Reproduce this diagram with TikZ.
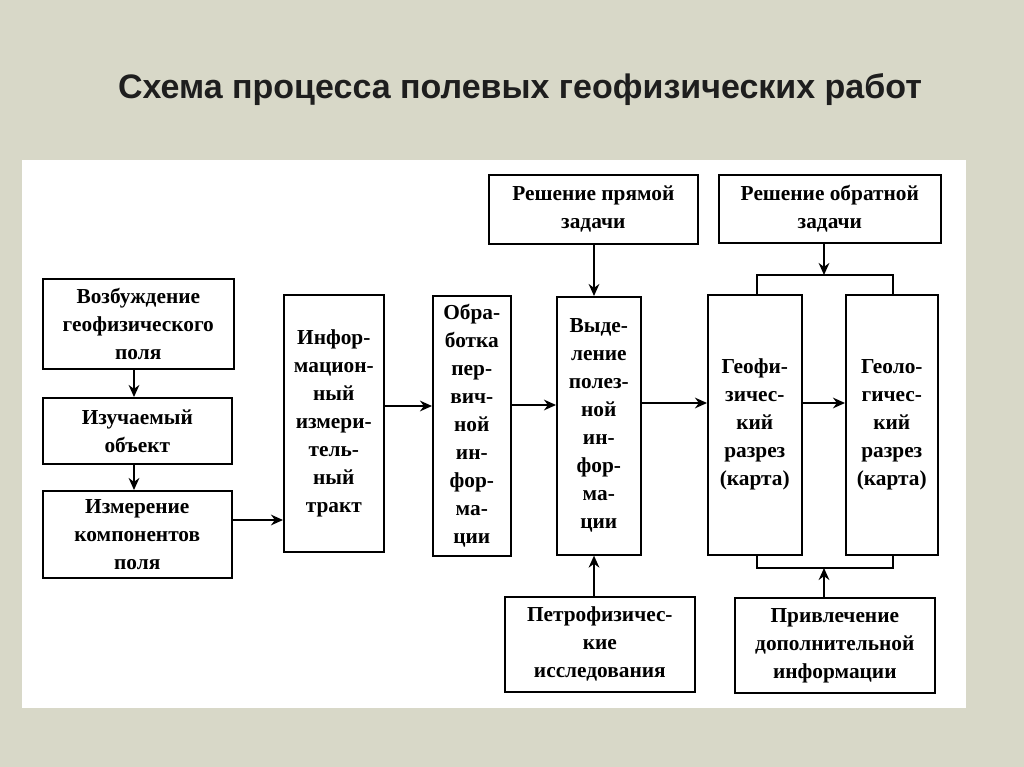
\documentclass[tikz,border=0pt]{standalone}
\usepackage{fontspec}
\setmainfont{Liberation Serif}
\setsansfont{Liberation Sans}
\usetikzlibrary{arrows.meta}
\tikzset{
 bx/.style={draw,line width=1.2pt,fill=white,align=center,font=\fontsize{16}{21}\selectfont\bfseries,inner sep=0pt},
 ar/.style={line width=1.5pt,-{Stealth[length=9pt,width=8pt]}},
 ln/.style={line width=1.2pt}
}
\newcommand{\bxx}[6]{\node[bx,minimum width=#4*0.75pt,minimum height=#5*0.75pt,anchor=north west] (#1) at (#2,#3) {#6};}
\begin{document}
\begin{tikzpicture}[x=0.75pt,y=-0.75pt]
\fill[fill={rgb,255:red,216;green,216;blue,200}] (0,0) rectangle (1024,767);
\useasboundingbox (0,0) rectangle (1024,767);
\fill[white] (22,160) rectangle (966,708);
\node[font=\sffamily\bfseries\fontsize{25.5}{30}\selectfont,text={rgb,255:red,30;green,30;blue,30}] (t) at (520,90) {Схема процесса полевых геофизических работ};
\bxx{A}{42}{278}{191}{90}{Возбуждение\\геофизического\\поля}
\bxx{B}{42}{397}{189}{66}{Изучаемый\\объект}
\bxx{C}{42}{490}{189}{87}{Измерение\\компонентов\\поля}
\bxx{D}{283}{294}{100}{257}{Инфор-\\мацион-\\ный\\измери-\\тель-\\ный\\тракт}
\bxx{E}{432}{295}{78}{260}{Обра-\\ботка\\пер-\\вич-\\ной\\ин-\\фор-\\ма-\\ции}
\bxx{F}{556}{296}{84}{258}{Выде-\\ление\\полез-\\ной\\ин-\\фор-\\ма-\\ции}
\bxx{G}{488}{174}{209}{69}{Решение прямой\\задачи}
\bxx{H}{718}{174}{222}{68}{Решение обратной\\задачи}
\bxx{I}{707}{294}{94}{260}{Геофи-\\зичес-\\кий\\разрез\\(карта)}
\bxx{J}{845}{294}{92}{260}{Геоло-\\гичес-\\кий\\разрез\\(карта)}
\bxx{K}{504}{596}{190}{95}{Петрофизичес-\\кие\\исследования}
\bxx{L}{734}{597}{200}{95}{Привлечение\\дополнительной\\информации}
\draw[ar] (A.south -| 134,0) -- (B.north -| 134,0);
\draw[ar] (B.south -| 134,0) -- (C.north -| 134,0);
\draw[ar] (C.east |- 0,520) -- (D.west |- 0,520);
\draw[ar] (D.east |- 0,406) -- (E.west |- 0,406);
\draw[ar] (E.east |- 0,405) -- (F.west |- 0,405);
\draw[ar] (F.east |- 0,403) -- (I.west |- 0,403);
\draw[ar] (I.east |- 0,403) -- (J.west |- 0,403);
\draw[ar] (G.south -| 594,0) -- (F.north -| 594,0);
\draw[ar] (K.north -| 594,0) -- (F.south -| 594,0);
\coordinate (tb) at (824,275);
\coordinate (bb) at (824,568);
\draw[ar] (H.south -| tb) -- (tb);
\draw[ln] (I.north -| 757,0) |- (893,275) -- (J.north -| 893,0);
\draw[ln] (I.south -| 757,0) |- (893,568) -- (J.south -| 893,0);
\draw[ar] (L.north -| bb) -- (bb);
\end{tikzpicture}
\end{document}
